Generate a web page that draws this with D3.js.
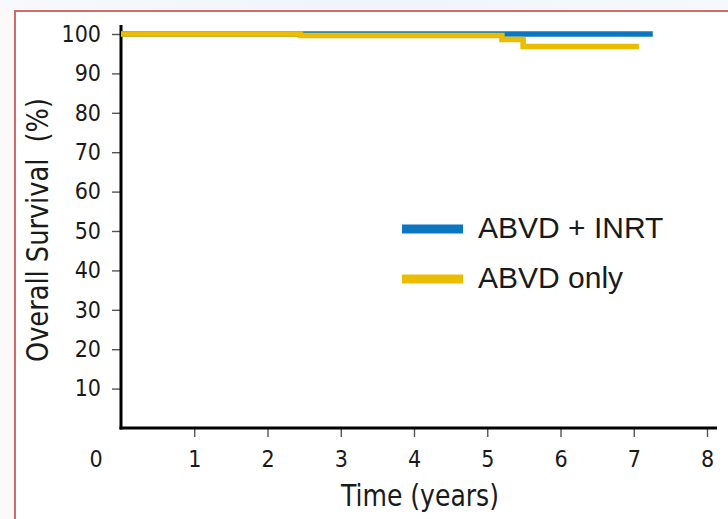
<!DOCTYPE html>
<html><head><meta charset="utf-8">
<script src="https://cdn.jsdelivr.net/npm/d3@7"></script>
<style>html,body{margin:0;padding:0;background:#fff;}svg{display:block;}</style>
</head><body>
<svg id="chart" width="728" height="519"></svg>
<script>
// Data
const seriesNames = ["ABVD + INRT", "ABVD only"];
const abvdInrtTimes = [0, 7.26];
const abvdInrtSurvival = [100, 100];
const abvdOnlyTimes = [0, 2.45, 5.2, 5.49, 7.07];
const abvdOnlySurvival = [100, 99.6, 98.6, 96.8, 96.8];
const xTicks = [1, 2, 3, 4, 5, 6, 7, 8];
const yTicks = [10, 20, 30, 40, 50, 60, 70, 80, 90, 100];
const colors = ["#0b77c3", "#ebbd00"];

const svg = d3.select("#chart");
const font = "'Liberation Sans', Arial, sans-serif";
const narrow = "'Liberation Sans Narrow', 'DejaVu Sans Condensed', 'Liberation Sans', Arial, sans-serif";

// background & frame
const bg = svg.append("defs").append("linearGradient").attr("id","bgg").attr("x1",0).attr("x2",1);
bg.append("stop").attr("offset",0).attr("stop-color","#f7f9fc");
bg.append("stop").attr("offset",0.5).attr("stop-color","#eef5fb");
bg.append("stop").attr("offset",1).attr("stop-color","#f5f9fc");
svg.append("rect").attr("x",0).attr("y",0).attr("width",728).attr("height",10).attr("fill","url(#bgg)");
svg.append("rect").attr("x",0).attr("y",10).attr("width",14).attr("height",509).attr("fill","#fdf9f9");
svg.append("path").attr("d","M15,530 V11 H740").attr("fill","none").attr("stroke","#d46a6a").attr("stroke-width",2);

const x = d3.scaleLinear().domain([0, 8]).range([121, 707]);
const y = d3.scaleLinear().domain([0, 100]).range([428, 34]);

// y axis
const yAxis = svg.append("g").attr("transform","translate(121,0)")
  .call(d3.axisLeft(y).tickValues(yTicks).tickSize(9).tickPadding(11));
yAxis.select(".domain").remove();
yAxis.selectAll(".tick line").attr("stroke","#555").attr("stroke-width",1.4);
yAxis.selectAll(".tick text").attr("font-family",narrow).attr("font-size",23).attr("fill","#1a1a1a");

// x axis
const xAxis = svg.append("g").attr("transform","translate(0,428)")
  .call(d3.axisBottom(x).tickValues(xTicks).tickSize(9).tickPadding(14));
xAxis.select(".domain").remove();
xAxis.selectAll(".tick line").attr("stroke","#555").attr("stroke-width",1.4);
xAxis.selectAll(".tick text").attr("font-family",narrow).attr("font-size",23).attr("fill","#1a1a1a");

// origin label
svg.append("text").attr("x",96).attr("y",467).attr("text-anchor","middle")
  .attr("font-family",narrow).attr("font-size",23).attr("fill","#1a1a1a").text("0");

// axis lines
svg.append("line").attr("x1",121).attr("x2",121).attr("y1",25).attr("y2",429.5).attr("stroke","#000").attr("stroke-width",3);
svg.append("line").attr("x1",119.5).attr("x2",717).attr("y1",428).attr("y2",428).attr("stroke","#000").attr("stroke-width",3);

// curves
const line = d3.line().x(d => x(d[0])).y(d => y(d[1])).curve(d3.curveStepAfter);
const s1 = abvdInrtTimes.map((t,i)=>[t, abvdInrtSurvival[i]]);
const s2 = abvdOnlyTimes.map((t,i)=>[t, abvdOnlySurvival[i]]);
svg.append("path").datum(s1).attr("d",line).attr("fill","none").attr("stroke",colors[0]).attr("stroke-width",5.5);
svg.append("path").datum(s2).attr("d",line).attr("fill","none").attr("stroke",colors[1]).attr("stroke-width",5.5);

// axis titles
svg.append("text").attr("transform","translate(48,230) rotate(-90)").attr("text-anchor","middle")
  .attr("font-family",narrow).attr("font-size",31).attr("fill","#1a1a1a").attr("xml:space","preserve")
  .attr("textLength",264).attr("lengthAdjust","spacingAndGlyphs")
  .text("Overall Survival  (%)");
svg.append("text").attr("x",420).attr("y",506).attr("text-anchor","middle")
  .attr("font-family",narrow).attr("font-size",31).attr("fill","#1a1a1a")
  .attr("textLength",158).attr("lengthAdjust","spacingAndGlyphs")
  .text("Time (years)");

// legend
const leg = svg.append("g");
seriesNames.forEach((n,i) => {
  const yy = 229 + i*50;
  leg.append("line").attr("x1",402).attr("x2",463).attr("y1",yy).attr("y2",yy).attr("stroke",colors[i]).attr("stroke-width",9);
  leg.append("text").attr("x",478).attr("y",yy+9).attr("font-family",font).attr("font-size",30).attr("fill","#1a1a1a").text(n);
});
</script>
</body></html>
